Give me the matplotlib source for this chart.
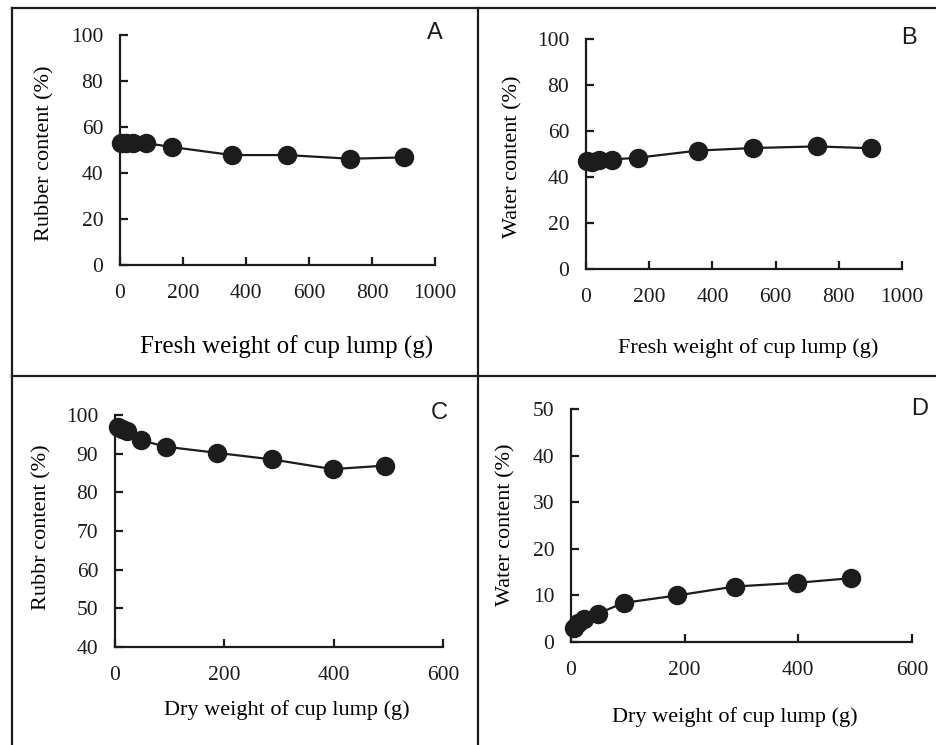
import matplotlib
matplotlib.use("Agg")
import matplotlib.pyplot as plt
from matplotlib.lines import Line2D

# fresh weight panels (A, B)
fresh_weight = [4, 18, 42, 82, 165, 355, 530, 730, 903]
rubber_fresh = [53.0, 53.0, 53.0, 53.0, 51.3, 47.8, 47.8, 46.2, 46.8]
water_fresh = [46.8, 46.5, 47.6, 47.6, 48.4, 51.5, 52.6, 53.3, 52.5]

# dry weight panels (C, D)
dry_weight = [5, 12, 22, 47, 93, 187, 288, 398, 493]
rubber_dry = [97.0, 96.5, 95.8, 93.5, 91.8, 90.2, 88.5, 86.0, 86.9]
water_dry = [3.0, 4.0, 4.9, 6.1, 8.4, 10.0, 11.9, 12.7, 13.7]

W, H = 936, 745
fig = plt.figure(figsize=(W / 100, H / 100), dpi=100)
plt.rcParams['font.family'] = ['Liberation Serif', 'DejaVu Serif']

ink = '#1c1c1c'


def px_axes(left, top, right, bottom):
    return fig.add_axes([left / W, 1 - bottom / H, (right - left) / W, (bottom - top) / H])


def style(ax, xmax, xstep, ymin, ymax, ystep):
    ax.set_xlim(0, xmax)
    ax.set_ylim(ymin, ymax)
    ax.set_xticks(range(0, xmax + 1, xstep))
    ax.set_yticks(range(ymin, ymax + 1, ystep))
    for s in ['top', 'right']:
        ax.spines[s].set_visible(False)
    for s in ['left', 'bottom']:
        ax.spines[s].set_linewidth(1.6)
        ax.spines[s].set_color(ink)
    ax.tick_params(direction='in', length=6, width=1.6, colors=ink,
                   labelsize=15.5, pad=14)
    ax.tick_params(axis='y', pad=12)
    ax.set_facecolor('none')


def draw(ax, x, y):
    ax.plot(x, y, '-o', color=ink, lw=1.6, ms=13, clip_on=False, zorder=3)


def labels(ax, xlab, ylab, xl, yl, xsize=16):
    ax.set_xlabel(xlab, fontsize=xsize)
    ax.set_ylabel(ylab, fontsize=16)
    ax.xaxis.label.set_va('center')
    ax.yaxis.label.set_va('center')
    ax.xaxis.set_label_coords(*xl)
    ax.yaxis.set_label_coords(*yl)


axA = px_axes(120, 35, 435, 265)
style(axA, 1000, 200, 0, 100, 20)
draw(axA, fresh_weight, rubber_fresh)
labels(axA, 'Fresh weight of cup lump (g)', 'Rubber content (%)',
       ((287 - 120) / 315, (265 - 347) / 230), ((45 - 120) / 315, (265 - 153) / 230),
       xsize=18)

axB = px_axes(586, 39, 902, 269)
style(axB, 1000, 200, 0, 100, 20)
draw(axB, fresh_weight, water_fresh)
labels(axB, 'Fresh weight of cup lump (g)', 'Water content (%)',
       ((748 - 586) / 316, (269 - 348) / 230), ((513 - 586) / 316, (269 - 157) / 230))

axC = px_axes(115, 415, 443, 647)
style(axC, 600, 200, 40, 100, 10)
draw(axC, dry_weight, rubber_dry)
labels(axC, 'Dry weight of cup lump (g)', 'Rubbr content (%)',
       ((287 - 115) / 328, (647 - 710) / 232), ((42 - 115) / 328, (647 - 527) / 232))

axD = px_axes(571, 409, 912, 642)
style(axD, 600, 200, 0, 50, 10)
draw(axD, dry_weight, water_dry)
labels(axD, 'Dry weight of cup lump (g)', 'Water content (%)',
       ((735 - 571) / 341, (642 - 717) / 233), ((506 - 571) / 341, (642 - 525) / 233))

# panel letters
for letter, (x, y) in zip('ABCD', [(435, 33), (909, 38), (439, 413), (920, 409)]):
    fig.text(x / W, 1 - y / H, letter, fontsize=17, family='Liberation Sans',
             ha='center', va='center', color=ink)

# panel frame lines
frame = [((12, 8), (936, 8)), ((12, 8), (12, 745)), ((478, 8), (478, 745)),
         ((12, 376), (936, 376))]
for (x0, y0), (x1, y1) in frame:
    fig.add_artist(Line2D([x0 / W, x1 / W], [1 - y0 / H, 1 - y1 / H],
                          transform=fig.transFigure, color=ink, lw=1.6))

fig.savefig('out.png', dpi=100)
